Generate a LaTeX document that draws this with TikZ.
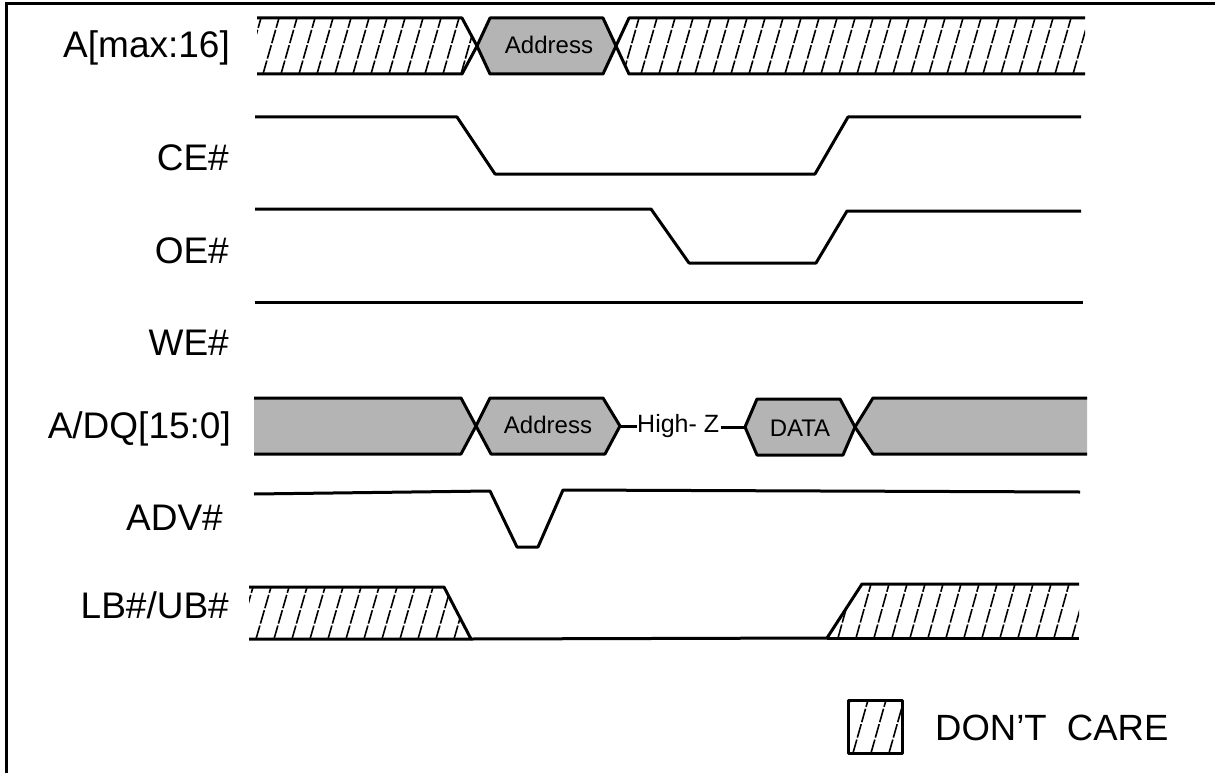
\documentclass[tikz,border=0pt]{standalone}
\usepackage{fontspec}
\setmainfont{Liberation Sans}
\definecolor{busgray}{RGB}{180,180,180}
\begin{document}
\begin{tikzpicture}[x=1pt,y=-1pt,
  sig/.style={line width=3pt, line join=round},
  hatchline/.style={line width=1.6pt, dash pattern=on 14pt off 2pt},
  lbl/.style={anchor=base east, inner sep=0pt, font=\fontsize{37}{42}\selectfont},
  bustext/.style={inner sep=0pt, font=\fontsize{24}{28}\selectfont},
  fillbus/.style={fill=busgray}]
\useasboundingbox (0,0) rectangle (1215,773);
% frame
\draw[line width=3pt] (6,790) -- (6,4) -- (1230,4);

% labels
\node[lbl] (lA)   at (230,58)  {A[max:16]};
\node[lbl] (lCE)  at (229,170) {CE\#};
\node[lbl] (lOE)  at (229,263) {OE\#};
\node[lbl] (lWE)  at (229,355) {WE\#};
\node[lbl] (lADQ) at (231,438) {A/DQ[15:0]};
\node[lbl] (lADV) at (223,530) {ADV\#};
\node[lbl] (lLB)  at (229,618) {LB\#/UB\#};

% ---------- A[max:16]
\begin{scope}
\clip (257,18) -- (462,18) -- (477,46) -- (462,74) -- (257,74) -- cycle;
\foreach \x in {245,263,...,485} \draw[hatchline] (\x,74) -- ++(16,-56);
\end{scope}
\draw[sig] (257,18) -- (462,18) -- (477,46) -- (462,74) -- (257,74);
\begin{scope}
\clip (616,46) -- (629,18) -- (1085,18) -- (1085,74) -- (629,74) -- cycle;
\foreach \x in {605,623,...,1090} \draw[hatchline] (\x,74) -- ++(16,-56);
\end{scope}
\draw[sig] (1085,18) -- (629,18) -- (616,46) -- (629,74) -- (1085,74);
\draw[sig,fillbus] (477,46) -- (490,18) -- (603,18) -- (616,46) -- (603,74) -- (490,74) -- cycle;
\node[bustext] (addr1) at (549,45) {Address};

% ---------- CE#
\draw[sig] (255,117) -- (457,117) -- (495,174) -- (815,174) -- (848,117) -- (1081,117);
% ---------- OE#
\draw[sig] (255,209) -- (651,209) -- (689,263) -- (816,263) -- (847,211) -- (1081,211);
% ---------- WE#
\draw[sig] (255,302) -- (1083,302);

% ---------- A/DQ[15:0]
\fill[busgray] (254,398) -- (461,398) -- (476,426) -- (461,454) -- (254,454) -- cycle;
\draw[sig] (254,398) -- (461,398) -- (476,426) -- (461,454) -- (254,454);
\fill[busgray] (855,427) -- (873,398) -- (1087,398) -- (1087,454) -- (873,454) -- cycle;
\draw[sig] (1087,398) -- (873,398) -- (855,427) -- (873,454) -- (1087,454);
\draw[sig,fillbus] (476,426) -- (490,398) -- (603,398) -- (620,426) -- (605,454) -- (491,454) -- cycle;
\coordinate (addrR) at (620,426);
\node[bustext] (addr2) at (548,425) {Address};
\draw[sig,fillbus] (745,427) -- (757,399) -- (840,399) -- (855,427) -- (843,455) -- (757,455) -- cycle;
\coordinate (dataL) at (745,427);
\node[bustext] (data) at (800,428) {DATA};
\node[inner sep=0pt, anchor=west, font=\fontsize{25}{29}\selectfont] (hiz) at (637,426) {High- Z};
\draw[sig] (addrR) -- (hiz.west |- addrR);
\draw[sig] ([xshift=2pt]hiz.east |- dataL) -- (dataL);

% ---------- ADV#
\draw[sig] (254,494) -- (490,491) -- (517,547) -- (538,547) -- (563,490) -- (1080,492);

% ---------- LB#/UB#
\begin{scope}
\clip (249,587) -- (444,587) -- (471,639) -- (249,639) -- cycle;
\foreach \x in {238,256,...,480} \draw[hatchline] (\x,639) -- ++(15,-52);
\end{scope}
\draw[sig] (249,587) -- (444,587) -- (471,639) -- (249,639);
\begin{scope}
\clip (827,638) -- (862,584) -- (1079,584) -- (1079,638) -- cycle;
\foreach \x in {820,838,...,1090} \draw[hatchline] (\x,638) -- ++(15,-54);
\end{scope}
\draw[sig] (471,639) -- (827,638) -- (862,584) -- (1079,584);
\draw[sig] (827,638) -- (1079,638);

% ---------- legend
\begin{scope}
\clip (848,700) rectangle (902,753);
\foreach \x in {835,853,...,905} \draw[hatchline] (\x,753) -- ++(15,-53);
\end{scope}
\draw[sig] (848,700) rectangle (902,753) node[coordinate] (legbox) {};
\node[inner sep=0pt, anchor=base west, font=\fontsize{36.5}{41}\selectfont] (dc) at (935,740) {DON’T\ \ CARE};
\end{tikzpicture}
\end{document}
